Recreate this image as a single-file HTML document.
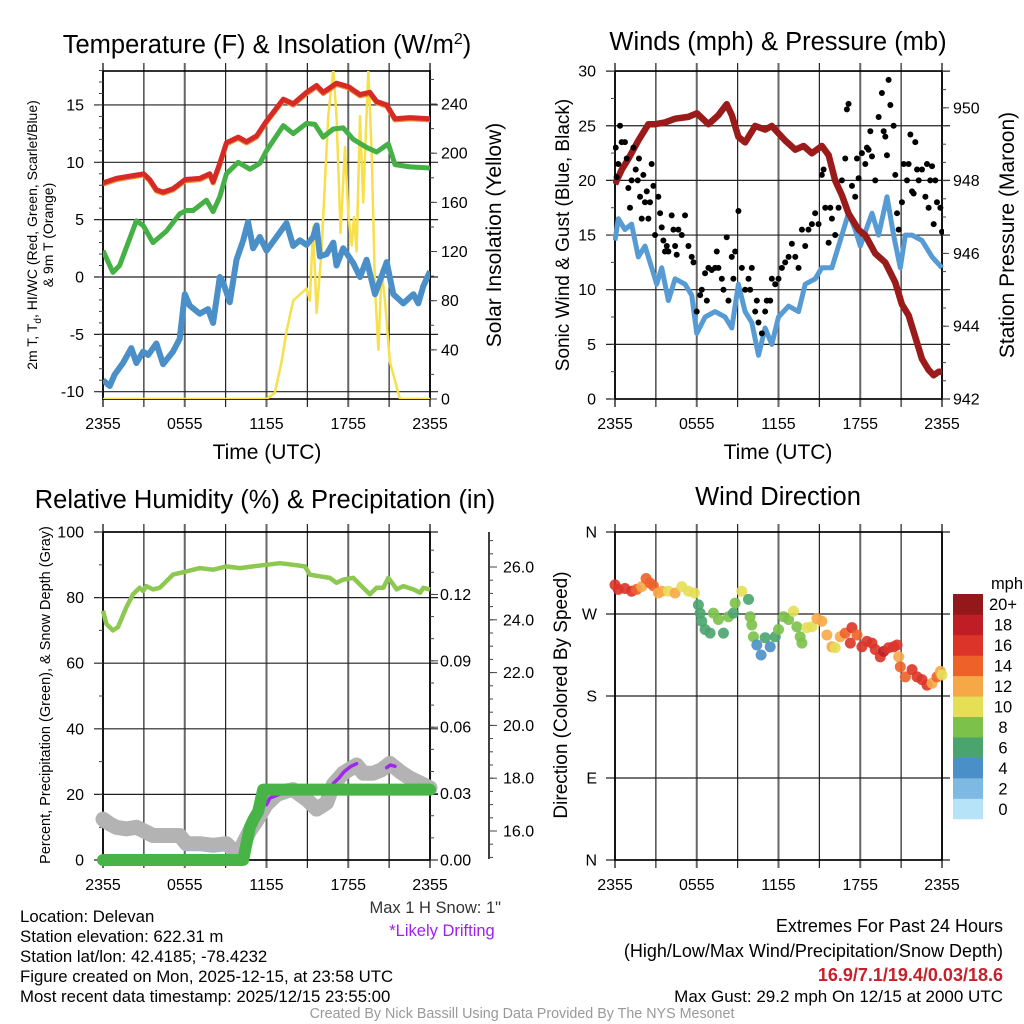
<!DOCTYPE html>
<html><head><meta charset="utf-8"><title>Delevan Mesonet Meteogram</title>
<style>
html,body{margin:0;padding:0;background:#fff;}
svg{display:block;font-family:"Liberation Sans",Arial,sans-serif;}
</style></head>
<body>
<svg id="chart" width="1024" height="1024" viewBox="0 0 1024 1024" xmlns="http://www.w3.org/2000/svg">
<rect width="1024" height="1024" fill="#fff"/>
<!-- titles -->
<text x="267" y="53" font-size="25.5" text-anchor="middle">Temperature (F) &amp; Insolation (W/m<tspan dy="-9" font-size="16">2</tspan><tspan dy="9">)</tspan></text>
<text x="778" y="50" font-size="25.5" text-anchor="middle">Winds (mph) &amp; Pressure (mb)</text>
<text x="265" y="508" font-size="25.5" text-anchor="middle">Relative Humidity (%) &amp; Precipitation (in)</text>
<text x="778" y="505" font-size="25.5" text-anchor="middle">Wind Direction</text>
<!-- axis titles -->
<text x="267" y="459" font-size="21" text-anchor="middle">Time (UTC)</text>
<text x="778" y="459" font-size="21" text-anchor="middle">Time (UTC)</text>
<text transform="translate(37,235) rotate(-90)" font-size="14" text-anchor="middle">2m T, T<tspan dy="4" font-size="10">d</tspan><tspan dy="-4">, HI/WC (Red, Green, Scarlet/Blue)</tspan></text>
<text transform="translate(53,235) rotate(-90)" font-size="14" text-anchor="middle">&amp; 9m T (Orange)</text>
<text transform="translate(501,235) rotate(-90)" font-size="21" text-anchor="middle">Solar Insolation (Yellow)</text>
<text transform="translate(569,235) rotate(-90)" font-size="19" text-anchor="middle">Sonic Wind &amp; Gust (Blue, Black)</text>
<text transform="translate(1014,235) rotate(-90)" font-size="21" text-anchor="middle">Station Pressure (Maroon)</text>
<text transform="translate(50,695) rotate(-90)" font-size="14.5" text-anchor="middle">Percent, Precipitation (Green), &amp; Snow Depth (Gray)</text>
<text transform="translate(567,695) rotate(-90)" font-size="19" text-anchor="middle">Direction (Colored By Speed)</text>
<!-- footer -->
<g font-size="16.8">
<text x="20" y="922">Location: Delevan</text>
<text x="20" y="942">Station elevation: 622.31 m</text>
<text x="20" y="962">Station lat/lon: 42.4185; -78.4232</text>
<text x="20" y="982">Figure created on Mon, 2025-12-15, at 23:58 UTC</text>
<text x="20" y="1002">Most recent data timestamp: 2025/12/15 23:55:00</text>
</g>
<text x="501" y="913" font-size="16.5" fill="#333" text-anchor="end">Max 1 H Snow: 1"</text>
<text x="442" y="936" font-size="16.5" fill="#a020f0" text-anchor="middle">*Likely Drifting</text>
<g font-size="18" text-anchor="end">
<text x="1003" y="932">Extremes For Past 24 Hours</text>
<text x="1003" y="957">(High/Low/Max Wind/Precipitation/Snow Depth)</text>
<text x="1003" y="981" fill="#c8202a" font-weight="bold">16.9/7.1/19.4/0.03/18.6</text>
<text x="1003" y="1002" font-size="17">Max Gust: 29.2 mph On 12/15 at 2000 UTC</text>
</g>
<text x="522" y="1018" font-size="14.3" fill="#999" text-anchor="middle">Created By Nick Bassill Using Data Provided By The NYS Mesonet</text>
<g id="layer"></g>
</svg>
<script>
// ---------- data ----------
const xTickLabels = ["2355","0555","1155","1755","2355"];
// Panel 1
const tempHours = [0,0.98,1.96,2.99,3.43,3.92,4.41,5.14,6.03,7.10,7.84,8.08,8.57,9.06,9.92,10.53,11.27,12.0,13.23,13.96,14.94,15.68,16.16,17.14,18.0,18.86,19.59,20.08,20.82,21.43,22.53,24];
const tempVals = [8.2,8.6,8.8,9.0,8.5,7.6,7.4,7.7,8.5,8.6,9.0,8.3,9.9,11.7,12.2,11.8,12.3,13.6,15.5,15.1,16.1,16.7,16.1,16.9,16.6,15.9,16.1,15.3,15.0,13.8,13.9,13.8];
const dewHours = [0,0.73,1.22,2.45,2.94,3.67,4.65,5.63,6.12,6.61,7.59,8.08,8.57,9.06,9.92,10.78,11.51,12.0,13.23,13.96,14.94,15.55,16.16,16.9,17.63,18.37,19.35,20.08,20.94,21.43,22.53,24];
const dewVals = [2.3,0.4,1.0,4.9,4.5,3.0,4.0,5.5,5.8,5.8,6.7,5.7,7.0,9.0,10.0,9.4,9.9,11.0,13.2,12.5,13.4,13.3,12.2,12.9,13.0,12.0,11.3,10.9,11.6,9.8,9.6,9.5];
const wcHours = [0,0.49,0.86,1.47,2.08,2.45,2.94,3.31,3.92,4.41,5.14,5.63,6.0,6.37,7.10,7.71,8.08,8.57,8.82,9.31,9.8,10.29,10.65,11.02,11.51,12.0,12.74,13.47,13.96,14.45,14.94,15.43,15.68,15.92,16.41,16.9,17.14,17.63,18.37,18.86,19.35,19.96,20.82,21.31,22.04,22.78,23.14,23.51,24];
const wcVals = [-9.0,-9.5,-8.5,-7.5,-6.2,-7.5,-6.5,-6.8,-5.8,-7.6,-6.5,-5.4,-1.5,-2.5,-3.2,-2.8,-4.0,0,-0.5,-2.2,1.5,3.2,4.8,2.5,3.5,2.3,3.5,4.7,2.7,3.2,2.8,3.5,4.5,1.8,2.0,3.0,1.0,2.5,1.2,0,1.5,-1.5,1.3,-1.5,-2.3,-1.5,-2.3,-0.8,0.5];
const solHours = [0,12.0,12.61,13.1,13.47,13.96,14.45,14.94,15.18,15.43,15.68,16.04,16.53,16.9,17.14,17.44,17.76,18.0,18.25,18.42,18.61,18.86,19.1,19.47,19.72,19.96,20.21,20.45,20.7,21.06,21.8,24];
const solVals = [0,0,5,30,55,80,85,90,80,140,70,120,230,268,230,135,205,150,125,148,120,230,160,268,200,90,40,105,80,30,0,0];
const p1LeftTicks = [-10,-5,0,5,10,15];
const p1RightTicks = [0,40,80,120,160,200,240];
// Panel 2
const windHours = [0,0.24,0.73,1.22,1.71,2.2,2.69,3.06,3.43,3.92,4.41,5.14,5.63,6.0,6.61,7.35,8.08,8.57,9.06,9.55,10.04,10.53,11.02,11.51,12.0,12.74,13.47,13.96,14.69,15.18,15.92,16.65,17.14,17.63,18.0,18.86,19.35,19.96,20.45,20.94,21.31,21.8,22.53,23.27,24];
const windVals = [14.5,16.5,15.5,16,13,14,12,10.5,12,9,11,10.5,9.5,6,7.5,8,7.5,6.5,10.5,8,7,4,6.5,5,7.5,8.5,8,10.5,11,12,12,15,17,15.5,14,17,15,18.5,15,12,15,15,14.5,13,12];
const gustHours = [0.05,0.12,0.24,0.37,0.49,0.73,0.86,0.98,1.1,1.22,1.35,1.52,1.67,1.76,1.84,1.96,2.08,2.2,2.33,2.45,2.57,2.69,2.82,2.94,3.18,3.31,3.43,3.55,3.67,3.8,3.92,4.16,4.29,4.41,4.53,4.65,4.9,5.14,5.39,5.63,5.76,6.0,6.25,6.37,6.61,6.74,6.86,7.1,7.35,7.47,7.59,7.84,7.96,8.2,8.33,8.57,8.69,8.82,9.06,9.31,9.55,9.8,9.92,10.04,10.29,10.41,10.53,10.78,11.02,11.14,11.39,11.51,11.76,12.0,12.25,12.49,12.74,12.98,13.23,13.47,13.72,13.96,14.2,14.45,14.69,14.94,15.18,15.31,15.43,15.68,15.8,15.92,16.16,16.41,16.65,16.9,17.02,17.14,17.39,17.63,17.76,17.88,18.12,18.37,18.49,18.61,18.74,18.86,19.1,19.35,19.59,19.72,19.84,19.96,20.08,20.21,20.45,20.57,20.7,20.82,21.06,21.19,21.43,21.55,21.68,21.8,21.92,22.04,22.17,22.29,22.53,22.78,22.9,23.02,23.14,23.27,23.39,23.51,23.63,23.88,24];
const gustVals = [23,20.3,21.5,25,23.5,23.5,22,19.3,17.5,20,23,21,20,22,18.5,16.5,20.5,18,19,16.5,18,21.5,19.5,15,18.5,17,15.7,14.5,13.5,14,13.5,16.8,15.5,14,13.2,15.5,15,16.8,14,13,12.5,8,9.5,10,11.5,9,12,11.8,12,13.5,12,11,10,14.8,9,13,11,13.5,17.2,12,10,11,10,12,8,9,7,6,8,9,9,11,10.5,11,12,12.5,13,14.2,13,12,15.5,14,15.5,16,17,16,20.5,21,17.5,14.3,17.5,16.5,15,17.5,20,22,26.5,27,19.5,18.5,22,20.2,22.5,21.5,23,22.8,24.5,22.2,20,25.8,28,24.5,24,22.3,29.2,26.9,25,20.5,17,15.5,18,21.5,20,21.5,24.2,19,18.8,23.5,21,20,21,18.5,21.5,17.5,20,21.3,16,20,18,17.5,15.3];
const presHours = [0,0.49,0.98,1.71,2.45,2.94,3.67,4.41,5.39,6.0,6.86,7.59,8.2,8.57,9.06,9.55,10.29,11.02,11.51,12.0,12.49,13.23,13.84,14.45,15.18,15.68,16.16,16.65,17.14,17.88,18.37,19.1,19.84,20.57,21.06,21.55,22.04,22.53,23.02,23.39,23.76,24];
const presVals = [947.9,948.3,948.6,949.1,949.55,949.55,949.6,949.7,949.75,949.85,949.55,949.8,950.1,949.8,949.2,949.05,949.5,949.4,949.5,949.3,949.1,948.85,948.95,948.75,948.95,948.7,948.0,947.6,947.1,946.65,946.5,946.0,945.75,945.2,944.6,944.3,943.7,943.1,942.8,942.65,942.75,942.75];
const p2LeftTicks = [0,5,10,15,20,25,30];
const p2RightTicks = [942,944,946,948,950];
// Panel 3
const rhHours = [0,0.24,0.73,1.1,1.71,2.2,2.69,2.94,3.18,3.67,4.16,4.65,5.14,6.12,7.1,8.08,9.06,10.04,11.02,12.0,12.98,13.96,14.82,15.18,15.92,16.65,17.14,17.63,18.37,19.1,19.59,20.08,20.57,20.94,21.31,21.55,22.04,22.78,23.27,23.51,24];
const rhVals = [76,72,70,71,77,81,83,82,83.5,82.5,83,85,87,88,89,88.5,89.5,89,89.5,90,90.5,90,89.5,87,86.5,86,84.5,85.5,86,83,81,83,83,86,84,82.5,83.5,82.5,81.5,83,82.5];
const snowHours = [0,0.49,0.98,1.71,2.45,2.94,3.67,4.65,5.63,6.12,7.1,8.08,9.06,9.55,9.92,10.29,10.78,11.27,12.0,12.74,13.47,13.96,14.45,14.94,15.68,16.41,16.9,17.63,18.61,19.1,19.84,20.45,21.06,21.8,22.53,23.27,24];
const snowVals = [16.45,16.27,16.14,16.08,16.14,16.02,15.83,15.83,15.83,15.52,15.52,15.46,15.52,15.27,14.96,15.52,16.02,16.39,17.01,17.38,17.51,17.57,17.38,17.2,16.83,17.07,17.76,18.19,18.5,18.19,18.19,18.32,18.56,18.25,18.0,17.82,17.63];
const driftHours = [12.0,12.25,12.5,12.98,null,16.9,17.3,17.7,18.2,18.61,null,20.82,21.1,21.43];
const driftVals = [17.0,17.25,17.3,17.4,null,17.8,18.0,18.25,18.45,18.55,null,18.4,18.5,18.45];
const precipHours = [0,10.29,10.53,10.78,11.02,11.39,11.76,24];
const precipVals = [0,0,0.0074,0.0148,0.018,0.022,0.0318,0.0318];
const p3LeftTicks = [0,20,40,60,80,100];
const p3PrecipTicks = ["0.00","0.03","0.06","0.09","0.12"];
const p3SnowTicks = ["16.0","18.0","20.0","22.0","24.0","26.0"];
// Panel 4
const dirHours = [0,0.24,0.73,1.22,1.59,1.96,2.28,2.57,2.82,3.18,3.43,3.92,4.41,4.9,5.39,5.83,6.12,6.25,6.37,6.61,6.98,7.22,7.59,7.96,8.33,8.69,8.82,9.31,9.8,9.92,10.04,10.16,10.41,10.72,11.02,11.39,11.76,12.0,12.37,12.74,13.1,13.35,13.59,13.72,14.08,14.45,14.82,15.18,15.55,15.92,16.16,16.53,16.9,17.27,17.39,17.76,18.12,18.49,18.86,19.1,19.47,19.72,20.08,20.45,20.7,20.82,20.94,21.31,21.8,22.17,22.53,22.9,23.27,23.63,23.88,24.0];
const dirVals = [302,297,298,295,297,300,309,304,301,293,295,295,293,300,295,293,280,271,262,253,249,271,264,249,267,271,282,295,286,267,258,245,236,225,244,234,245,253,267,264,273,256,245,238,255,256,265,262,247,234,233,245,249,238,255,247,234,240,238,231,223,229,233,234,236,223,212,201,209,201,198,192,194,201,207,203];
const dirSpeeds = [16,16,16,16,14,13,14,14,14,12,12,10,12,10,10,10,7,7,6,6,7,8,8,7,8,6,8,10,6,8,8,8,4,4,6,4,7,8,8,8,10,8,8,8,10,10,12,12,12,12,11,13,14,17,16,14,16,16,17,16,17,18,17,17,16,12,14,14,16,16,16,17,12,14,12,10];
const dirTickLabels = ["N","E","S","W","N"];
const speedBinLabels = ["0","2","4","6","8","10","12","14","16","18","20+"];
const speedBinColors = ["#b6e3f7","#7db9e2","#4a8fc7","#49a46e","#7bc14a","#e4df55","#f6a847","#ee6129","#dc3428","#bf1e26","#941719"];

// ---------- helpers ----------
const NS = "http://www.w3.org/2000/svg";
const layer = document.getElementById("layer");
function mk(tag, attrs, parent){
  const e = document.createElementNS(NS, tag);
  for (const k in attrs) e.setAttribute(k, attrs[k]);
  (parent || layer).appendChild(e);
  return e;
}
function pathD(hs, vs, xf, yf){
  let d = "", pen = false;
  for (let i = 0; i < hs.length; i++){
    if (hs[i] === null || vs[i] === null){ pen = false; continue; }
    d += (pen ? "L" : "M") + xf(hs[i]).toFixed(1) + "," + yf(vs[i]).toFixed(1);
    pen = true;
  }
  return d;
}
function xAxis(x0){ return h => x0 + h * (327 / 24); }

function frame(name, x0, yTop, yBot, hLines){
  const g = mk("g", {});
  
  
  for (let i = 0; i <= 8; i++){
    const x = x0 + i * 327 / 8;
    const ln = mk("line", {x1:x, x2:x, y1:yTop - 8, y2:yBot + 8, stroke: i % 2 ? "#222" : "#666", "stroke-width": i % 2 ? 1.2 : 2}, g);
    
    
  }
  for (let i = 0; i < 5; i++){
    const t = mk("text", {x: x0 + i * 327 / 4, y: yBot + 30, "font-size": 16, "text-anchor": "middle"}, g);
    t.textContent = xTickLabels[i];
    
    
  }
  hLines.forEach(y => {
    const ln = mk("line", {x1:x0 - 9, x2:x0 + 327 + 8, y1:y, y2:y, stroke:"#222", "stroke-width":1.2}, g);
    
    
  });
  const b = mk("rect", {x:x0, y:yTop, width:327, height:yBot - yTop, fill:"none", stroke:"#000", "stroke-width":1.6}, g);
  
  
  return g;
}
function tickLabel(g, name, x, y, txt, anchor){
  const t = mk("text", {x:x, y:y + 5.5, "font-size":16, "text-anchor":anchor}, g);
  t.textContent = txt;
  
  
}
function minor(g, x, y, len){
  mk("line", {x1:x, x2:x + len, y1:y, y2:y, stroke:"#444", "stroke-width":1}, g);
}

// ---------- Panel 1 ----------
(function(){
  const X = xAxis(103);
  const yL = v => 277 - v * 11.47;
  const yR = v => 399 - v * 1.229;
  const g = frame("temp-panel", 103, 71, 399, p1LeftTicks.map(yL));
  p1LeftTicks.forEach(v => tickLabel(g, "temp-y-tick-label", 84, yL(v), String(v), "end"));
  for (let v = -10; v <= 18; v++) minor(g, 103, yL(v), -4);
  p1RightTicks.forEach(v => { tickLabel(g, "insolation-tick-label", 441, yR(v), String(v), "start"); minor(g, 430, yR(v), 7); });
  for (let v = 0; v <= 260; v += 20) minor(g, 430, yR(v), 4);
  const clip = mk("clipPath", {id:"c1"}); mk("rect", {x:103, y:71, width:327, height:328}, clip);
  const s = mk("g", {"clip-path":"url(#c1)"});
  
  
  let p;
  p = mk("path", {d:pathD(solHours, solVals, X, yR), fill:"none", stroke:"#f7e04a", "stroke-width":2.5, "stroke-linejoin":"round"}, s);
  
  
  p = mk("path", {d:pathD(wcHours, wcVals, X, yL), fill:"none", stroke:"#4a8fc8", "stroke-width":6, "stroke-linejoin":"round"}, s);
  
  
  p = mk("path", {d:pathD(dewHours, dewVals, X, yL), fill:"none", stroke:"#45b045", "stroke-width":5, "stroke-linejoin":"round"}, s);
  
  
  p = mk("path", {d:pathD(tempHours, tempVals, X, v => yL(v) + 1.2), fill:"none", stroke:"#f08a30", "stroke-width":5, "stroke-linejoin":"round"}, s);
  
  
  p = mk("path", {d:pathD(tempHours, tempVals, X, yL), fill:"none", stroke:"#d62a26", "stroke-width":5, "stroke-linejoin":"round"}, s);
  
  
})();

// ---------- Panel 2 ----------
(function(){
  const X = xAxis(615);
  const yL = v => 399 - v * 10.93;
  const yR = v => 399 - (v - 942) * 36.4;
  const g = frame("wind-panel", 615, 71, 399, p2LeftTicks.map(yL));
  p2LeftTicks.forEach(v => tickLabel(g, "wind-y-tick-label", 596, yL(v), String(v), "end"));
  for (let v = 0; v <= 30; v += 2.5) minor(g, 615, yL(v), -4);
  p2RightTicks.forEach(v => { tickLabel(g, "pressure-tick-label", 953, yR(v), String(v), "start"); minor(g, 942, yR(v), 7); });
  for (let v = 942; v <= 951; v += 0.5) minor(g, 942, yR(v), 4);
  const clip = mk("clipPath", {id:"c2"}); mk("rect", {x:613, y:66, width:331, height:335}, clip);
  const s = mk("g", {"clip-path":"url(#c2)"});
  
  
  let p = mk("path", {d:pathD(windHours, windVals, X, yL), fill:"none", stroke:"#579bd4", "stroke-width":5, "stroke-linejoin":"round"}, s);
  
  
  p = mk("path", {d:pathD(presHours, presVals, X, yR), fill:"none", stroke:"#9b1b1b", "stroke-width":6.5, "stroke-linejoin":"round"}, s);
  
  
  gustHours.forEach((h, i) => {
    const c = mk("circle", {cx:X(h), cy:yL(gustVals[i]), r:3, fill:"#000"}, s);
    
    
  });
})();

// ---------- Panel 3 ----------
(function(){
  const X = xAxis(103);
  const yL = v => 860 - v * 3.28;
  const yP = v => 860 - v * 2213;
  const yS = v => 567 + (26 - v) * 26.4;
  const g = frame("rh-panel", 103, 532, 860, p3LeftTicks.map(yL));
  p3LeftTicks.forEach(v => tickLabel(g, "rh-y-tick-label", 84, yL(v), String(v), "end"));
  for (let v = 0; v <= 100; v += 10) minor(g, 103, yL(v), -4);
  p3PrecipTicks.forEach(v => { tickLabel(g, "precip-tick-label", 440, yP(parseFloat(v)), v, "start"); minor(g, 430, yP(parseFloat(v)), 8); });
  for (let v = 0; v <= 0.148; v += 0.01) minor(g, 430, yP(v), 4);
  const ax = mk("line", {x1:489, x2:489, y1:532, y2:859, stroke:"#000", "stroke-width":1.5}, g);
  
  
  p3SnowTicks.forEach(v => { tickLabel(g, "snow-tick-label", 503, yS(parseFloat(v)), v, "start"); minor(g, 489, yS(parseFloat(v)), 8); });
  for (let v = 15; v <= 27; v += 0.5) if (yS(v) >= 532 && yS(v) <= 859) minor(g, 489, yS(v), 4);
  const s = mk("g", {});
  
  
  let p = mk("path", {d:pathD(snowHours, snowVals, X, yS), fill:"none", stroke:"#b3b3b3", "stroke-width":15, "stroke-linejoin":"round", "stroke-linecap":"round"}, s);
  
  
  p = mk("path", {d:pathD(driftHours, driftVals, X, yS), fill:"none", stroke:"#a326ee", "stroke-width":3.5, "stroke-linejoin":"round", "stroke-linecap":"round"}, s);
  
  
  p = mk("path", {d:pathD(precipHours, precipVals, X, yP), fill:"none", stroke:"#48b448", "stroke-width":12, "stroke-linejoin":"round", "stroke-linecap":"round"}, s);
  
  
  p = mk("path", {d:pathD(rhHours, rhVals, X, yL), fill:"none", stroke:"#8dc850", "stroke-width":4.5, "stroke-linejoin":"round"}, s);
  
  
})();

// ---------- Panel 4 ----------
(function(){
  const X = xAxis(615);
  const yD = v => 860 - v * (328 / 360);
  const g = frame("direction-panel", 615, 532, 860, [0,90,180,270,360].map(yD));
  dirTickLabels.forEach((t, i) => tickLabel(g, "direction-tick-label", 597, yD(i * 90), t, "end"));
  const s = mk("g", {});
  
  
  dirHours.forEach((h, i) => {
    const bin = Math.min(10, Math.floor(dirSpeeds[i] / 2));
    const c = mk("circle", {cx:X(h), cy:yD(dirVals[i]), r:5.5, fill:speedBinColors[bin], "fill-opacity":0.9}, s);
    
    
  });
  const cb = mk("g", {});
  
  
  const bh = (819 - 594) / 11;
  speedBinLabels.forEach((lab, i) => {
    const y = 819 - (i + 1) * bh;
    const r = mk("rect", {x:953, y:y, width:30, height:bh + 0.3, fill:speedBinColors[i]}, cb);
    
    
    const t = mk("text", {x:1003, y:y + bh / 2 + 6, "font-size":16.5, "text-anchor":"middle"}, cb);
    t.textContent = lab;
    
    
  });
  const u = mk("text", {x:1007, y:589, "font-size":16.5, "text-anchor":"middle"}, cb);
  u.textContent = "mph";
  
  
})();
</script>
</body></html>
